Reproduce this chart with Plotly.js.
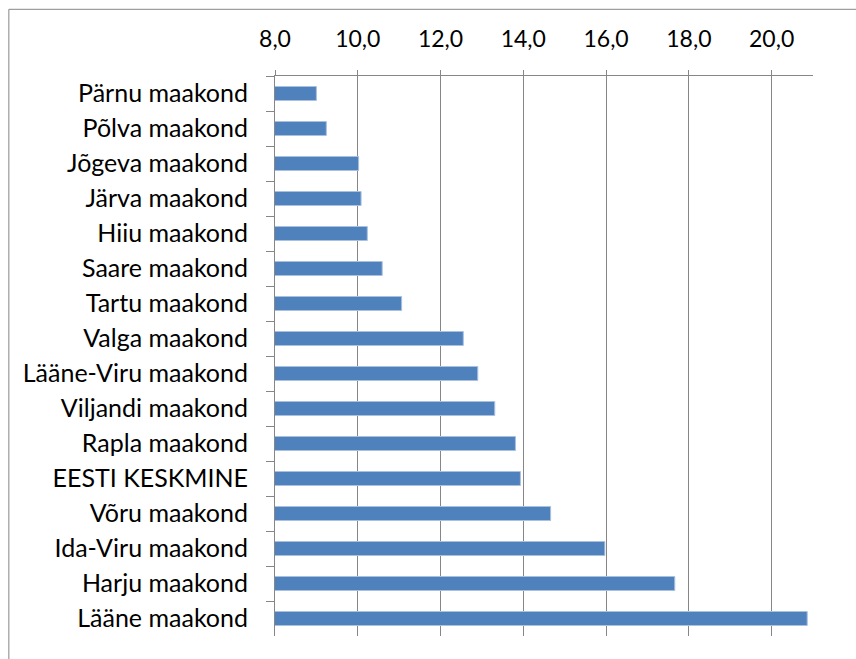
<!DOCTYPE html>
<html>
<head>
<meta charset="utf-8">
<script src="https://cdn.plot.ly/plotly-3.0.1.min.js"></script>
<style>
  html, body { margin: 0; padding: 0; background: #ffffff; }
  #chart { width: 856px; height: 659px; }
</style>
</head>
<body>
<div id="chart"></div>
<script>
const categories = [
  "Pärnu maakond", "Põlva maakond", "Jõgeva maakond", "Järva maakond",
  "Hiiu maakond", "Saare maakond", "Tartu maakond", "Valga maakond",
  "Lääne-Viru maakond", "Viljandi maakond", "Rapla maakond", "EESTI KESKMINE",
  "Võru maakond", "Ida-Viru maakond", "Harju maakond", "Lääne maakond"
];
const values = [9.0, 9.24, 10.02, 10.08, 10.23, 10.59, 11.06, 12.55,
                12.9, 13.31, 13.81, 13.93, 14.66, 15.97, 17.66, 20.86];
const xTickValues = [8, 10, 12, 14, 16, 18, 20];

const FONT = "Lato, 'Open Sans', sans-serif";
const GRAY = "#868686";

const trace = {
  type: "bar",
  orientation: "h",
  y: categories,
  x: values,
  marker: { color: "#4f81bd", line: { color: "#a9c0df", width: 1 } },
  hoverinfo: "x+y"
};

const layout = {
  width: 856,
  height: 659,
  margin: { l: 275, r: 43, t: 76, b: 23, pad: 0 },
  paper_bgcolor: "#ffffff",
  plot_bgcolor: "#ffffff",
  separators: ", ",
  showlegend: false,
  bargap: 0.6,
  font: { family: FONT, size: 25, color: "#000000" },
  xaxis: {
    side: "top",
    range: [8, 21],
    tickmode: "array",
    tickvals: xTickValues,
    tickformat: ".1f",
    showgrid: true,
    gridcolor: GRAY,
    gridwidth: 1,
    showline: true,
    linecolor: GRAY,
    linewidth: 1,
    ticks: "outside",
    ticklen: 5,
    tickcolor: GRAY,
    tickwidth: 1,
    ticklabelstandoff: 14,
    zeroline: false,
    tickfont: { family: FONT, size: 23, color: "#000000" }
  },
  yaxis: {
    type: "category",
    categoryorder: "array",
    categoryarray: categories,
    autorange: "reversed",
    showgrid: false,
    showline: true,
    linecolor: GRAY,
    linewidth: 1,
    ticks: "outside",
    tickson: "boundaries",
    ticklen: 8,
    tickcolor: GRAY,
    tickwidth: 1,
    ticklabelstandoff: 21,
    zeroline: false,
    tickfont: { family: FONT, size: 25, color: "#000000" }
  },
  shapes: [
    { type: "line", xref: "paper", yref: "paper",
      x0: -0.4947, x1: 2, y0: 1.1191, y1: 1.1191,
      line: { color: GRAY, width: 1 } },
    { type: "line", xref: "paper", yref: "paper",
      x0: -0.4947, x1: -0.4947, y0: 1.1191, y1: -1,
      line: { color: GRAY, width: 1 } }
  ]
};

Plotly.newPlot("chart", [trace], layout, { displayModeBar: false, responsive: false });
</script>
</body>
</html>
